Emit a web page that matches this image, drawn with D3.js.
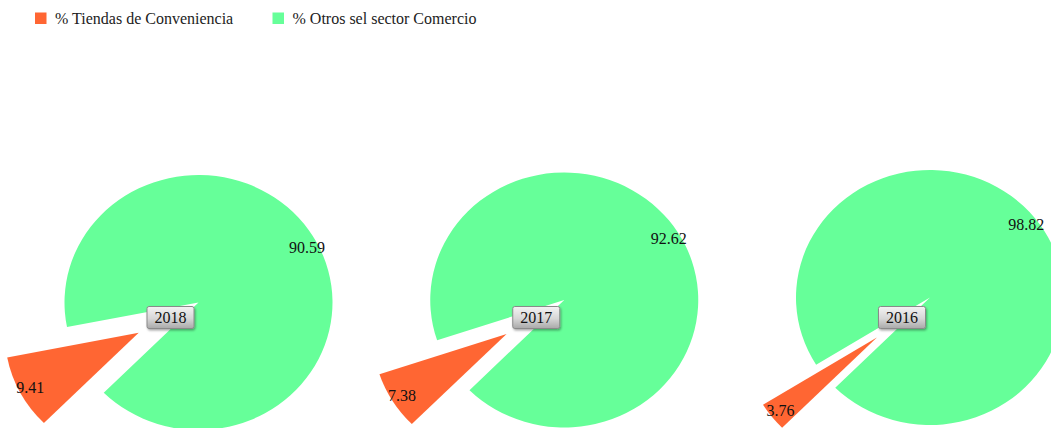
<!DOCTYPE html>
<html>
<head>
<meta charset="utf-8">
<script src="https://cdn.jsdelivr.net/npm/d3@7"></script>
<style>
  html, body { margin: 0; padding: 0; background: #fff; }
  svg { display: block; font-family: "Liberation Serif", "Times New Roman", serif; }
</style>
</head>
<body>
<svg id="chart" width="1051" height="428"></svg>
<script>
// Share of convenience stores within the retail sector, by year
const years = ["2018", "2017", "2016"];
const tiendas = [9.41, 7.38, 3.76];
const otros = [90.59, 92.62, 98.82];
const seriesNames = ["% Tiendas de Conveniencia", "% Otros sel sector Comercio"];
const seriesColors = ["#FF6633", "#66FF99"];

const svg = d3.select("#chart");
const W = 1051, H = 428;

// layout constants
const radius = 127.5;
const stretchX = 1.051;      // pies are drawn slightly wider than tall
const pullOut = 64.5;        // exploded distance of the first slice
const labelR = 117;
const firstCx = 198.5, stepX = 365.75;
const firstCy = 302.5, stepY = -2.5;

const color = d3.scaleOrdinal().domain(seriesNames).range(seriesColors);

// gradient for the year badges
const defs = svg.append("defs");
const grad = defs.append("linearGradient").attr("id", "badge").attr("x1", 0).attr("y1", 0).attr("x2", 0).attr("y2", 1);
grad.append("stop").attr("offset", "0%").attr("stop-color", "#f4f4f4");
grad.append("stop").attr("offset", "55%").attr("stop-color", "#d6d6d6");
grad.append("stop").attr("offset", "100%").attr("stop-color", "#a9a9a9");
const shadow = defs.append("filter").attr("id", "shadow").attr("x", "-20%").attr("y", "-20%").attr("width", "150%").attr("height", "160%");
shadow.append("feDropShadow").attr("dx", 1).attr("dy", 1.5).attr("stdDeviation", 1).attr("flood-color", "#000").attr("flood-opacity", 0.35);

// legend
const legend = svg.append("g").attr("class", "legend");
const legendX = [35, 272.5];
seriesNames.forEach((name, i) => {
  const g = legend.append("g").attr("transform", `translate(${legendX[i]},0)`);
  g.append("rect").attr("x", 0).attr("y", 12.5).attr("width", 11.5).attr("height", 11.5).attr("fill", color(name));
  g.append("text").attr("x", 20).attr("y", 24).attr("font-size", 16).attr("fill", "#222").text(name);
});

const pie = d3.pie()
  .sort(null)
  .value(d => d.value)
  .startAngle(5 * Math.PI / 4)
  .endAngle(5 * Math.PI / 4 + 2 * Math.PI);

const arc = d3.arc().innerRadius(0).outerRadius(radius);

years.forEach((year, i) => {
  const cx = firstCx + i * stepX;
  const cy = firstCy + i * stepY;
  const data = [
    { name: seriesNames[0], value: tiendas[i] },
    { name: seriesNames[1], value: otros[i] }
  ];
  const arcs = pie(data);

  const offsetOf = (d, idx) => {
    const a = (d.startAngle + d.endAngle) / 2;
    const dist = idx === 0 ? pullOut : 0;
    return [Math.sin(a) * dist, -Math.cos(a) * dist];
  };

  const slices = svg.append("g").attr("transform", `translate(${cx},${cy}) scale(${stretchX},1)`);
  // draw the large slice first, exploded slice on top
  [1, 0].forEach(idx => {
    const d = arcs[idx];
    const [ox, oy] = offsetOf(d, idx);
    slices.append("path")
      .attr("transform", `translate(${ox},${oy})`)
      .attr("d", arc(d))
      .attr("fill", color(d.data.name));
  });

  // value labels
  arcs.forEach((d, idx) => {
    const a = (d.startAngle + d.endAngle) / 2;
    const [ox, oy] = offsetOf(d, idx);
    const lx = ox + Math.sin(a) * labelR;
    const ly = oy - Math.cos(a) * labelR;
    svg.append("text")
      .attr("x", cx + lx * stretchX)
      .attr("y", cy + ly)
      .attr("dy", "0.35em")
      .attr("text-anchor", "middle")
      .attr("font-size", 16)
      .attr("fill", "#111")
      .text(d3.format(".2f")(d.data.value));
  });

  // year badge
  const bx = cx - 28, by = 317.5;
  const badge = svg.append("g").attr("transform", `translate(${bx},${by})`);
  badge.append("rect")
    .attr("x", -23.5).attr("y", -11).attr("width", 47).attr("height", 22)
    .attr("rx", 2).attr("ry", 2)
    .attr("fill", "url(#badge)")
    .attr("stroke", "#8a8a8a").attr("stroke-width", 1)
    .attr("filter", "url(#shadow)");
  badge.append("text")
    .attr("x", 0).attr("y", 0).attr("dy", "0.35em")
    .attr("text-anchor", "middle")
    .attr("font-size", 16)
    .attr("fill", "#111")
    .text(year);
});
</script>
</body>
</html>
